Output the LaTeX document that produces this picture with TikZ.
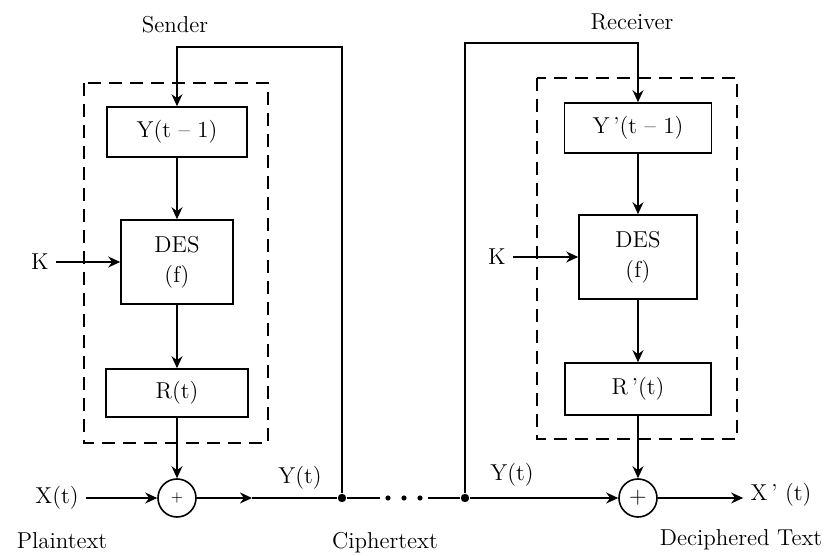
\documentclass[tikz,border=0pt]{standalone}
\usepackage{tikz}
\usetikzlibrary{arrows.meta, positioning}

\begin{document}
\begin{tikzpicture}[x=0.5pt, y=-0.5pt, >={Stealth[length=6pt, width=5.5pt]}, line width=0.8pt,
      every node/.style={font=\fontsize{11.5}{15}\selectfont},
      blk/.style={draw, rectangle, inner sep=2pt, align=center},
      sum/.style={draw, circle, minimum size=19pt, inner sep=0pt},
      dbox/.style={dash pattern=on 6.5pt off 4pt},
      jdot/.style={fill, circle, inner sep=0pt, minimum size=4.2pt},
      sdot/.style={fill, circle, inner sep=0pt, minimum size=2.6pt}]

    \useasboundingbox (0,0) rectangle (827,556);

    % sender side
    \node (sender) at (175,25) {Sender};
    \node[blk, minimum width=70pt, minimum height=25pt] (ysnd) at (177,132) {Y(t -- 1)};
    \node[blk, minimum width=56pt, minimum height=42pt] (dsnd) at (177,262) {DES\\(f)};
    \node[blk, minimum width=71pt, minimum height=24pt] (rsnd) at (177,393) {R(t)};
    \node[sum, font=\fontsize{7}{8}\selectfont] (asnd) at (177,498) {+};
    \draw[dbox] (84,83) rectangle (268,443);

    \node (ksnd) at (40,262) {K};
    \node (xin) at (57,498) {X(t)};
    \node[jdot] (jsnd) at (342,498) {};
    \coordinate (fbs) at (342,47);
    \coordinate (ymid) at (252,498);
    \node (ysndl) at (300,478) {Y(t)};

    \draw[->] (jsnd) -- (fbs) -| (ysnd.north);
    \draw[->] (ysnd) -- (dsnd);
    \draw[->] (ksnd) -- (dsnd);
    \draw[->] (dsnd) -- (rsnd);
    \draw[->] (rsnd) -- (asnd);
    \draw[->] (xin) -- (asnd);
    \draw[->] (asnd) -- (ymid);
    \draw (ymid) -- (jsnd);

    % the channel
    \node[sdot] (d1) at (388,498) {};
    \node[sdot] (d2) at (404,498) {};
    \node[sdot] (d3) at (420,498) {};
    \draw[shorten >=2.5pt] (jsnd) -- (d1);

    % receiver side
    \node (receiver) at (632,22) {Receiver};
    \node[blk, minimum width=73.5pt, minimum height=25pt] (yrcv) at (638,128) {Y\,'(t -- 1)};
    \node[blk, minimum width=59pt, minimum height=42pt] (drcv) at (638,257) {DES\\(f)};
    \node[blk, minimum width=73pt, minimum height=26pt] (rrcv) at (638,389) {R\,'(t)};
    \node[sum] (arcv) at (638,498) {+};
    \draw[dbox] (537,78) rectangle (737,439);

    \node (krcv) at (497,257) {K};
    \node[jdot] (jrcv) at (465,498) {};
    \coordinate (fbr) at (465,43);
    \node (yrcvl) at (512,475) {Y(t)};
    \node (xout) at (781,495) {X\,' (t)};

    \draw[shorten <=2.5pt] (d3) -- (jrcv);
    \draw[->] (jrcv) -- (fbr) -| (yrcv.north);
    \draw[->] (yrcv) -- (drcv);
    \draw[->] (krcv) -- (drcv);
    \draw[->] (drcv) -- (rrcv);
    \draw[->] (rrcv) -- (arcv);
    \draw[->] (jrcv) -- (arcv);
    \draw[->] (arcv) -- (arcv -| xout.west);

    % bottom captions
    \node (plain) at (62,541) {Plaintext};
    \node (cipher) at (385,543) {Ciphertext};
    \node (decip) at (741,540) {Deciphered Text};

\end{tikzpicture}
\end{document}
